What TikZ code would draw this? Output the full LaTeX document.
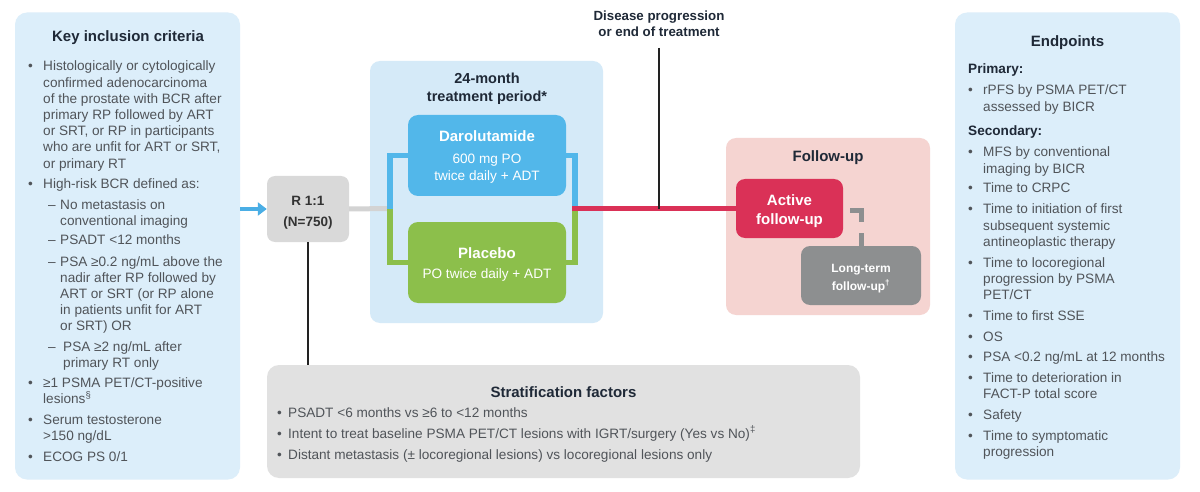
\documentclass[tikz,border=0pt]{standalone}
\usepackage{fontspec}
\setmainfont{Liberation Sans}
\usetikzlibrary{arrows.meta,calc}
\definecolor{panelblue}{HTML}{DCEEFA}
\definecolor{treatblue}{HTML}{D5EAF8}
\definecolor{darocol}{HTML}{52B7EA}
\definecolor{placcol}{HTML}{8CBF4B}
\definecolor{redcol}{HTML}{DA3157}
\definecolor{pinkcol}{HTML}{F5D4D1}
\definecolor{ltgray}{HTML}{8D8F90}
\definecolor{rboxcol}{HTML}{D9D9D9}
\definecolor{stratcol}{HTML}{E1E1E1}
\definecolor{linegray}{HTML}{D3D3D3}
\definecolor{arrowblue}{HTML}{4AAEE5}
\definecolor{titlecol}{HTML}{1F2937}
\definecolor{bodycol}{HTML}{505459}
\definecolor{darkline}{HTML}{222222}
\newcommand\mlines[1]{\begin{tabular}[t]{@{}l@{}}#1\end{tabular}}
\newcommand\clines[1]{\begin{tabular}[t]{@{}c@{}}#1\end{tabular}}
\newcommand\bodysize{\fontsize{13.6}{16.2}\selectfont}
\newcommand\titlesize{\fontsize{15}{19}\selectfont\bfseries}
\newcommand\bul[1]{\makebox[#1][l]{•}}
\newcommand\dsh{\makebox[12pt][l]{–}}
\begin{document}
\begin{tikzpicture}[x=1pt,y=-1pt,
  panel/.style={draw=none, inner sep=0pt, rounded corners=12pt},
  txt/.style={inner sep=0pt, text=bodycol, font=\bodysize, anchor=base west},
  ttl/.style={inner sep=0pt, text=titlecol, font=\titlesize, anchor=base},
  wtxt/.style={inner sep=0pt, text=white, anchor=base},
  bracketline/.style={line width=5.5pt},
]
\useasboundingbox (0,0) rectangle (1200,492);
\fill[white] (0,0) rectangle (1200,492);

% panels and boxes
\node[panel, fill=panelblue, minimum width=225pt, minimum height=467pt] (incl) at (127.5,246) {};
\node[panel, fill=panelblue, minimum width=225pt, minimum height=467pt] (endp) at (1067.5,246) {};
\node[panel, fill=treatblue, rounded corners=10pt, minimum width=233pt, minimum height=262pt] (treat) at (486.5,192) {};
\node[panel, fill=darocol, rounded corners=10pt, minimum width=158pt, minimum height=81pt] (daro) at (487,155.5) {};
\node[panel, fill=placcol, rounded corners=10pt, minimum width=158pt, minimum height=81pt] (plac) at (487,262.5) {};
\node[panel, fill=rboxcol, rounded corners=8pt, minimum width=82pt, minimum height=66pt] (rbox) at (308,209) {};
\node[panel, fill=pinkcol, rounded corners=10pt, minimum width=204pt, minimum height=177pt] (fup) at (828,226.5) {};
\node[panel, fill=redcol, rounded corners=9pt, minimum width=107pt, minimum height=59pt] (act) at (789.5,208.5) {};
\node[panel, fill=ltgray, rounded corners=9pt, minimum width=120pt, minimum height=59pt] (ltf) at (861,275.5) {};
\node[panel, fill=stratcol, rounded corners=12pt, minimum width=593pt, minimum height=113pt] (strat) at (563.5,421.5) {};

% junction coordinates
\coordinate (lj) at (390,208.5);
\coordinate (rj) at (575,208.5);
\coordinate (pj) at (659,208.5);
\coordinate (dptop) at (659,48);

% connectors
\draw[arrowblue, line width=4pt, -{Triangle[length=9pt,width=13pt]}] (incl.east |- rbox.west) -- (rbox.west);
\draw[linegray, line width=5pt] (rbox.east) -- (lj);
\draw[darocol, bracketline] (daro.west) -| (lj);
\draw[placcol, bracketline] (plac.west) -| (lj);
\draw[darocol, bracketline] (daro.east) -| (rj);
\draw[placcol, bracketline] (plac.east) -| (rj);
\draw[redcol, line width=4.5pt] ($(rj)+(-3,0)$) -- (act.west);
\draw[darkline, line width=2pt] (dptop) -- (pj);
\draw[darkline, line width=2pt] (rbox.south) -- (rbox.south |- strat.north);
\draw[ltgray, line width=5pt, dash pattern=on 23pt off 11pt on 30pt] ($(act.east)+(7,1.5)$) -| (ltf.north);

% left panel text
\node[ttl] (inclT) at (128,42) {Key inclusion criteria};
\node[txt] (i1) at (28,71) {\bul{15pt}\mlines{Histologically or cytologically\\confirmed adenocarcinoma\\of the prostate with BCR after\\primary RP followed by ART\\or SRT, or RP in participants\\who are unfit for ART or SRT,\\or primary RT}};
\node[txt] (i2) at (28,189) {\bul{15pt}High-risk BCR defined as:};
\node[txt] (s1) at (48,209) {\dsh\mlines{No metastasis on\\conventional imaging}};
\node[txt] (s2) at (48,244) {\dsh PSADT <12 months};
\node[txt] (s3) at (48,266) {\dsh\mlines{PSA ≥0.2 ng/mL above the\\nadir after RP followed by\\ART or SRT (or RP alone\\in patients unfit for ART\\or SRT) OR}};
\node[txt] (s4) at (48,351) {\makebox[15pt][l]{–}\mlines{PSA ≥2 ng/mL after\\primary RT only}};
\node[txt] (i3) at (28,387) {\bul{15pt}\mlines{≥1 PSMA PET/CT-positive\\lesions\textsuperscript{§}}};
\node[txt] (i4) at (28,424) {\bul{15pt}\mlines{Serum testosterone\\>150 ng/dL}};
\node[txt] (i5) at (28,461) {\bul{15pt}ECOG PS 0/1};

% treatment
\node[ttl, font=\fontsize{14.5}{18}\selectfont\bfseries] (treatT) at (487,84) {\clines{24-month\\treatment period*}};
\node[wtxt, font=\titlesize] (daroT) at (487,142) {Darolutamide};
\node[wtxt, font=\fontsize{13.6}{16.8}\selectfont] (daroD) at (487,163.5) {\clines{600 mg PO\\twice daily + ADT}};
\node[wtxt, font=\titlesize] (placT) at (487,258) {Placebo};
\node[wtxt, font=\fontsize{13.6}{16.8}\selectfont] (placD) at (487,278.5) {PO twice daily + ADT};

% randomisation
\node[ttl, text=black!80, font=\fontsize{13.5}{21}\selectfont\bfseries] (rT) at (308,205) {\clines{R 1:1\\(N=750)}};

% disease progression
\node[ttl, font=\fontsize{13.3}{16}\selectfont\bfseries] (dp) at (659,21) {\clines{Disease progression\\or end of treatment}};

% follow-up
\node[ttl] (fupT) at (828,161.5) {Follow-up};
\node[wtxt, font=\titlesize] (actT) at (789.5,205) {\clines{Active\\follow-up}};
\node[wtxt, font=\fontsize{12}{18}\selectfont\bfseries] (ltfT) at (861,272) {\clines{Long-term\\follow-up\textsuperscript{†}}};

% stratification
\node[ttl] (stratT) at (563.5,397) {Stratification factors};
\node[txt] (f1) at (277,417) {\bul{11pt}PSADT <6 months vs ≥6 to <12 months};
\node[txt] (f2) at (277,438) {\bul{11pt}Intent to treat baseline PSMA PET/CT lesions with IGRT/surgery (Yes vs No)\textsuperscript{‡}};
\node[txt] (f3) at (277,459) {\bul{11pt}Distant metastasis (± locoregional lesions) vs locoregional lesions only};

% endpoints
\node[ttl] (endT) at (1067.5,47) {Endpoints};
\node[txt, text=titlecol, font=\bodysize\bfseries] (prim) at (968,74) {Primary:};
\node[txt] (e1) at (968,95) {\bul{15pt}\mlines{rPFS by PSMA PET/CT\\assessed by BICR}};
\node[txt, text=titlecol, font=\bodysize\bfseries] (sec) at (968,136) {Secondary:};
\node[txt] (e2) at (968,157) {\bul{15pt}\mlines{MFS by conventional\\imaging by BICR}};
\node[txt] (e3) at (968,193) {\bul{15pt}Time to CRPC};
\node[txt] (e4) at (968,214) {\bul{15pt}\mlines{Time to initiation of first\\subsequent systemic\\antineoplastic therapy}};
\node[txt] (e5) at (968,267) {\bul{15pt}\mlines{Time to locoregional\\progression by PSMA\\PET/CT}};
\node[txt] (e6) at (968,320) {\bul{15pt}Time to first SSE};
\node[txt] (e7) at (968,341) {\bul{15pt}OS};
\node[txt] (e8) at (968,361) {\bul{15pt}PSA <0.2 ng/mL at 12 months};
\node[txt] (e9) at (968,382) {\bul{15pt}\mlines{Time to deterioration in\\FACT-P total score}};
\node[txt] (e10) at (968,419) {\bul{15pt}Safety};
\node[txt] (e11) at (968,440) {\bul{15pt}\mlines{Time to symptomatic\\progression}};
\end{tikzpicture}
\end{document}
